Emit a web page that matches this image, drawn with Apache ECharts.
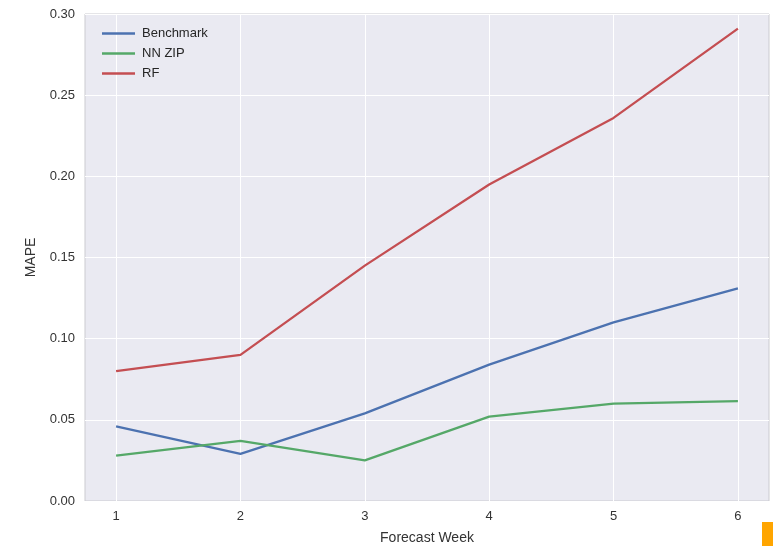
<!DOCTYPE html>
<html><head><meta charset="utf-8">
<script src="https://cdn.jsdelivr.net/npm/echarts@6/dist/echarts.min.js"></script>
<style>html,body{margin:0;padding:0;background:#fff}#c{width:773px;height:546px}</style>
</head><body><div id="c"></div>
<script>
const weeks = [1, 2, 3, 4, 5, 6];
const benchmark = [0.046, 0.029, 0.054, 0.084, 0.110, 0.131];
const nnZip = [0.028, 0.037, 0.025, 0.052, 0.060, 0.0615];
const rf = [0.080, 0.090, 0.145, 0.195, 0.236, 0.291];
const yTicks = [0, 0.05, 0.10, 0.15, 0.20, 0.25, 0.30];

const font = 'Liberation Sans, Arial, sans-serif';
const chart = echarts.init(document.getElementById('c'));
function pts(vals){ return weeks.map((w,i)=>[w, vals[i]]); }
chart.setOption({
  animation: false,
  backgroundColor: '#fff',
  grid: { left: 85, right: 4, top: 14, bottom: 45, outerBoundsMode: 'none', containLabel: false, show: true, backgroundColor: '#EAEAF2', borderColor: '#cbcbd0', borderWidth: 1 },
  legend: {
    orient: 'vertical', left: 97, top: 22, itemGap: 7,
    icon: 'rect', itemWidth: 33, itemHeight: 2.5,
    textStyle: { fontFamily: font, fontSize: 13, color: '#262626', padding: [0,0,0,2] },
    data: ['Benchmark', 'NN ZIP', 'RF']
  },
  xAxis: {
    type: 'value', min: 0.75, max: 6.25,
    name: 'Forecast Week', nameLocation: 'middle', nameGap: 30,
    nameTextStyle: { fontFamily: font, fontSize: 14, color: '#333' },
    axisLine: { show: false }, axisTick: { show: false },
    splitLine: { show: false },
    axisLabel: { customValues: weeks, fontFamily: font, fontSize: 13, color: '#333', margin: 9 }
  },
  yAxis: {
    type: 'value', min: 0, max: 0.3, interval: 0.05,
    name: 'MAPE', nameLocation: 'middle', nameGap: 47,
    nameTextStyle: { fontFamily: font, fontSize: 14, color: '#333' },
    axisLine: { show: false }, axisTick: { show: false },
    splitLine: { lineStyle: { color: '#fff', width: 1 } },
    axisLabel: { fontFamily: font, fontSize: 13, color: '#333', margin: 10, formatter: v => v.toFixed(2) }
  },
  series: [
    { name: 'grid', type: 'line', data: [], silent: true, z: 0,
      markLine: { silent: true, symbol: 'none', label: { show: false }, z: 0,
        lineStyle: { color: '#fff', width: 1, type: 'solid' },
        data: weeks.map(w => ({ xAxis: w })) } },
    { name: 'Benchmark', type: 'line', z: 5, data: pts(benchmark), showSymbol: false, lineStyle: { width: 2.3, color: '#4C72B0' }, itemStyle: { color: '#4C72B0' } },
    { name: 'NN ZIP', type: 'line', z: 5, data: pts(nnZip), showSymbol: false, lineStyle: { width: 2.3, color: '#55A868' }, itemStyle: { color: '#55A868' } },
    { name: 'RF', type: 'line', z: 5, data: pts(rf), showSymbol: false, lineStyle: { width: 2.3, color: '#C44E52' }, itemStyle: { color: '#C44E52' } }
  ],
  graphic: [{ type: 'rect', right: 0, bottom: 0, shape: { width: 11, height: 24 }, style: { fill: '#FFA500' } }]
});
</script></body></html>
